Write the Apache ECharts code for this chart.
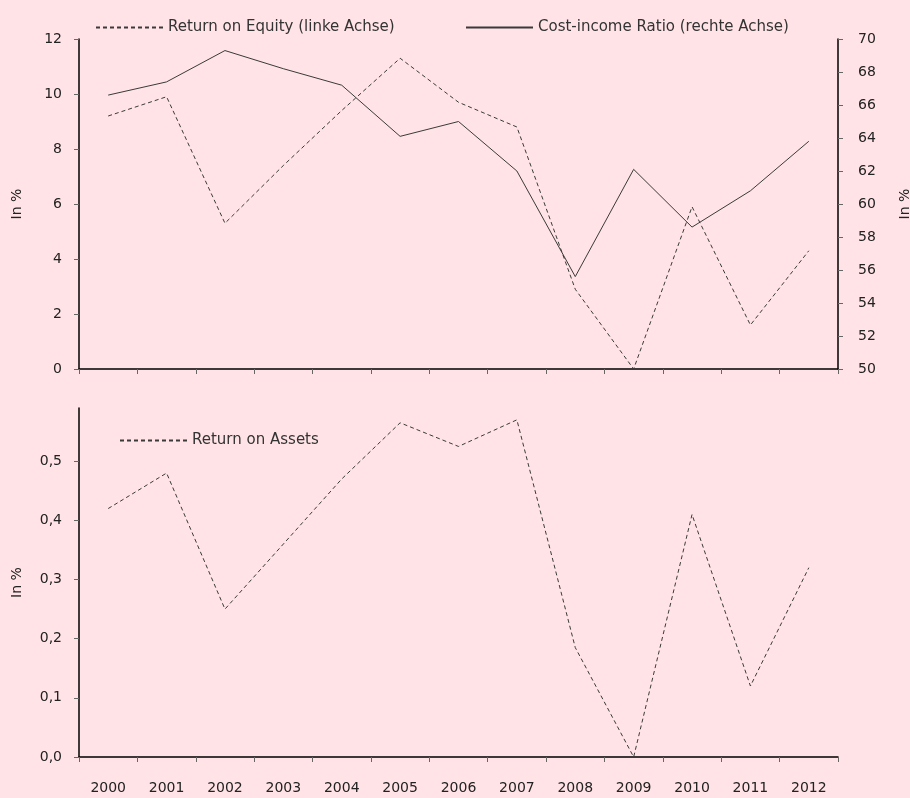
<!DOCTYPE html>
<html>
<head>
<meta charset="utf-8">
<script src="https://cdn.jsdelivr.net/npm/echarts@6/dist/echarts.min.js"></script>
<style>
  html, body { margin: 0; padding: 0; background: #ffe3e6; }
  #chart { width: 910px; height: 798px; }
</style>
</head>
<body>
<div id="chart"></div>
<script>
  // values
  var years = ['2000', '2001', '2002', '2003', '2004', '2005', '2006', '2007', '2008', '2009', '2010', '2011', '2012']
  var roe = [9.2, 9.9, 5.3, 7.4, 9.4, 11.3, 9.7, 8.8, 2.9, 0.0, 5.9, 1.6, 4.3]
  var costIncome = [66.6, 67.4, 69.3, 68.2, 67.2, 64.1, 65.0, 62.0, 55.6, 62.1, 58.6, 60.8, 63.8]
  var roa = [0.42, 0.48, 0.25, 0.36, 0.47, 0.565, 0.525, 0.57, 0.185, 0.0, 0.41, 0.12, 0.32]
  var roaTicks = [0, 0.1, 0.2, 0.3, 0.4, 0.5]

  var font = 'DejaVu Sans'
  var textColor = '#222'
  var lineColor = '#3a3a3a'

  function axisLine () {
    return { show: true, lineStyle: { color: '#000', width: 1.5 } }
  }
  function axisTick () {
    return { show: true, length: 5, lineStyle: { color: '#666' } }
  }
  function label (extra) {
    var l = { color: textColor, fontFamily: font, fontSize: 14 }
    for (var k in extra) l[k] = extra[k]
    return l
  }
  function legend (name, left, top) {
    return {
      data: [name], left: left, top: top,
      itemWidth: 67, itemHeight: 14,
      itemStyle: { opacity: 0 },
      textStyle: label({ color: '#333', fontSize: 15 })
    }
  }

  var chart = echarts.init(document.getElementById('chart'))
  var option = {
    backgroundColor: '#ffe3e6',
    animation: false,
    textStyle: { fontFamily: font },
    legend: [
      legend('Return on Equity (linke Achse)', 90, 15),
      legend('Cost-income Ratio (rechte Achse)', 460, 15),
      legend('Return on Assets', 114, 428)
    ],
    grid: [
      { left: 79, right: 72, top: 39, height: 330, outerBoundsMode: 'none' },
      { left: 79, right: 72, top: 408, height: 349, outerBoundsMode: 'none' }
    ],
    xAxis: [
      {
        type: 'category', gridIndex: 0, data: years, boundaryGap: true,
        axisLine: axisLine(), axisTick: axisTick(),
        axisLabel: { show: false }, splitLine: { show: false }
      },
      {
        type: 'category', gridIndex: 1, data: years, boundaryGap: true,
        axisLine: axisLine(), axisTick: axisTick(),
        axisLabel: label({ margin: 24 }), splitLine: { show: false }
      }
    ],
    yAxis: [
      {
        type: 'value', gridIndex: 0, position: 'left', min: 0, max: 12, interval: 2,
        name: 'In %', nameLocation: 'middle', nameGap: 55,
        nameTextStyle: label({}),
        axisLine: axisLine(), axisTick: axisTick(),
        axisLabel: label({ margin: 17 }), splitLine: { show: false }
      },
      {
        type: 'value', gridIndex: 0, position: 'right', min: 50, max: 70, interval: 2,
        name: 'In %', nameLocation: 'middle', nameGap: 60,
        nameTextStyle: label({}),
        axisLine: axisLine(), axisTick: axisTick(),
        axisLabel: label({ margin: 20 }), splitLine: { show: false }
      },
      {
        type: 'value', gridIndex: 1, min: 0, max: 0.59,
        name: 'In %', nameLocation: 'middle', nameGap: 55,
        nameTextStyle: label({}),
        axisLine: axisLine(),
        axisTick: { show: true, length: 5, lineStyle: { color: '#666' }, customValues: roaTicks },
        axisLabel: label({
          margin: 17,
          customValues: roaTicks,
          formatter: function (v) { return v.toFixed(1).replace('.', ',') }
        }),
        splitLine: { show: false }
      }
    ],
    series: [
      {
        name: 'Return on Equity (linke Achse)', type: 'line',
        xAxisIndex: 0, yAxisIndex: 0, data: roe,
        symbol: 'none',
        lineStyle: { color: lineColor, width: 1, type: [4, 3] },
        itemStyle: { color: lineColor }
      },
      {
        name: 'Cost-income Ratio (rechte Achse)', type: 'line',
        xAxisIndex: 0, yAxisIndex: 1, data: costIncome,
        symbol: 'none',
        lineStyle: { color: lineColor, width: 1 },
        itemStyle: { color: lineColor }
      },
      {
        name: 'Return on Assets', type: 'line',
        xAxisIndex: 1, yAxisIndex: 2, data: roa,
        symbol: 'none',
        lineStyle: { color: lineColor, width: 1, type: [4, 3] },
        itemStyle: { color: lineColor }
      }
    ]
  }
  chart.setOption(option)
</script>
</body>
</html>
